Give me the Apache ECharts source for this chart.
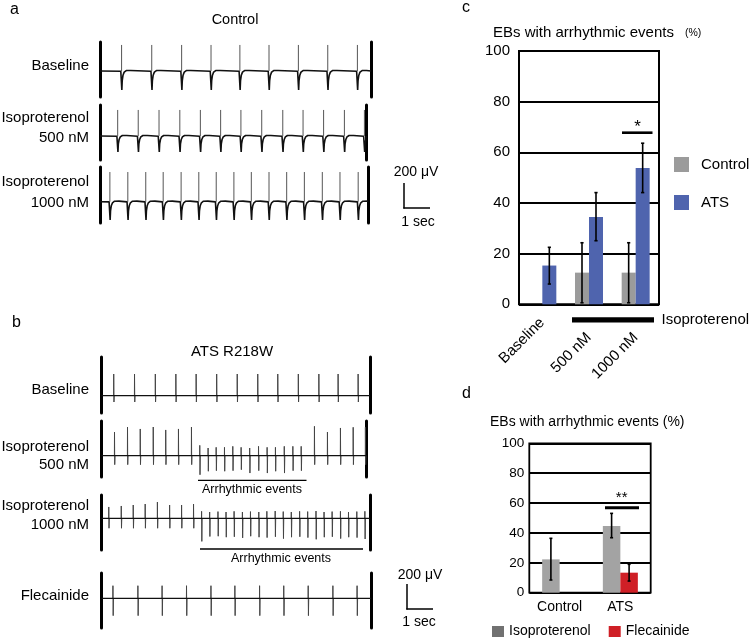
<!DOCTYPE html>
<html><head><meta charset="utf-8">
<script src="https://cdn.jsdelivr.net/npm/echarts@6/dist/echarts.min.js"></script>
<style>html,body{margin:0;padding:0;background:#fff}#c{width:750px;height:638px}</style>
</head><body><div id="c"></div><script>
const FONT = '"Liberation Sans", Arial, Helvetica, sans-serif';

// ---------- Panel a (Control) : spike times (s) and amplitudes (µV) ----------
const aBaselineSpikes = [0.83, 1.99, 3.14, 4.27, 5.38, 6.50, 7.63, 8.76, 9.90];
const a500Spikes = [0.68, 1.47, 2.27, 3.07, 3.86, 4.64, 5.42, 6.22, 7.03, 7.81, 8.60, 9.40, 10.17];
const a1000Spikes = [0.38, 1.07, 1.76, 2.43, 3.12, 3.80, 4.47, 5.15, 5.82, 6.50, 7.18, 7.86, 8.55, 9.23, 9.93];
const aSpikeTop = [186, 186, 212];
const aSpikeBottom = [-136, -114, -131];

// ---------- Panel b (ATS R218W) ----------
const bBaselineSpikes = [0.47, 1.27, 2.07, 2.86, 3.64, 4.43, 5.22, 6.01, 6.78, 7.57, 8.36, 9.10, 9.87];
const bBaselineTops = [155, 155, 155, 155, 155, 155, 155, 155, 155, 155, 155, 155, 155];
const bBaselineBottoms = [-45, -45, -45, -45, -45, -45, -45, -45, -45, -45, -45, -45, -45];

const b500Spikes = [0.50, 1.00, 1.49, 1.99, 2.47, 2.96, 3.46,
  3.78, 4.10, 4.41, 4.73, 5.05, 5.37, 5.70, 6.04, 6.37, 6.69, 7.03, 7.36, 7.68,
  8.19, 8.69, 9.19, 9.68, 10.15];
const b500Tops = [169, 205, 191, 205, 184, 191, 205,
  74, 55, 60, 60, 67, 60, 55, 67, 60, 60, 67, 67, 67,
  210, 169, 198, 203, 203];
const b500Bottoms = [-64, -64, -64, -64, -64, -64, -64,
  -136, -111, -107, -111, -107, -100, -124, -107, -124, -111, -124, -107, -107,
  -64, -64, -64, -64, -64];

const b1000Spikes = [0.28, 0.76, 1.22, 1.68, 2.15, 2.62, 3.08, 3.54,
  3.85, 4.16, 4.48, 4.79, 5.10, 5.42, 5.73, 6.05, 6.36, 6.68, 6.99, 7.30, 7.62, 7.93, 8.25, 8.56, 8.87, 9.19, 9.50, 9.82, 10.13];
const b1000Tops = [81, 88, 95, 102, 116, 95, 95, 102,
  50, 45, 48, 45, 50, 45, 48, 45, 50, 52, 48, 45, 50, 48, 52, 45, 48, 50, 45, 48, 50];
const b1000Bottoms = [-71, -71, -71, -71, -71, -71, -71, -71,
  -165, -130, -128, -135, -132, -140, -128, -135, -138, -132, -145, -135, -132, -138, -150, -135, -132, -145, -135, -138, -148];

const bFlecSpikes = [0.44, 1.40, 2.33, 3.27, 4.21, 5.13, 6.08, 7.01, 7.95, 8.90, 9.83];
const bFlecTops = [90, 90, 90, 90, 90, 90, 90, 90, 90, 90, 90];
const bFlecBottoms = [-124, -124, -124, -124, -124, -124, -124, -124, -124, -124, -124];

// ---------- Panel c ----------
const cCategories = ['Baseline', '500 nM', '1000 nM'];
const cControl = [0, 12.5, 12.5];
const cATS = [15.3, 34.5, 53.8];
const cControlErr = [[1, 0.6, 24.3], [2, 0.6, 24.3]];
const cATSErr = [[0, 8.0, 22.5], [1, 25.1, 44.1], [2, 44.1, 63.6]];

// ---------- Panel d ----------
const dCategories = ['Control', 'ATS'];
const dIso = [22.3, 44.6];
const dFlec = ['-', 13.4];
const dIsoErr = [[0, 8.5, 36.4], [1, 36.8, 53.1]];
const dFlecErr = [[1, 7.8, 19.0]];

// ---------- layout ----------
const PX_PER_SEC = 26, UV_PER_PX = 200 / 28;
const aLayout = [
  {left: 100, right: 371, top: 42, bottom: 97, base: 71},
  {left: 100, right: 366, top: 105, bottom: 160, base: 136},
  {left: 100, right: 368, top: 167, bottom: 223, base: 201.7}
];
const bLayout = [
  {left: 101.5, right: 370, top: 357, bottom: 413, base: 395.7},
  {left: 101.5, right: 366, top: 421, bottom: 477, base: 455.7},
  {left: 101.5, right: 370, top: 495, bottom: 550, base: 518.3},
  {left: 101.5, right: 371, top: 573, bottom: 628, base: 598.3}
];

const grids = [], xAxes = [], yAxes = [], series = [];

function addTraceGrid(lay) {
  const gi = grids.length;
  const w = lay.right - lay.left;
  grids.push({left: lay.left, top: lay.top, width: w, height: lay.bottom - lay.top, outerBoundsMode: 'none', containLabel: false});
  const xMax = w / PX_PER_SEC;
  xAxes.push({type: 'value', gridIndex: gi, min: 0, max: xMax, show: false});
  const yMin = -(lay.bottom - lay.base) * UV_PER_PX, yMax = (lay.base - lay.top) * UV_PER_PX;
  ['left', 'right'].forEach(pos => {
    yAxes.push({type: 'value', gridIndex: gi, position: pos, min: yMin, max: yMax,
      axisLine: {show: true, onZero: false, lineStyle: {color: '#000', width: 3}},
      axisTick: {show: false}, axisLabel: {show: false}, splitLine: {show: false}});
  });
  return {xi: xAxes.length - 1, yi: yAxes.length - 2, xMax: xMax};
}

function pushA(ax, times, top, bottom) {
  const main = [[0, 0]], up = [];
  times.forEach(t => {
    main.push([t - 0.03, -1.5], [t, 0], [t + 0.01, bottom], [t + 0.025, bottom * 0.5],
      [t + 0.055, bottom * 0.22], [t + 0.1, bottom * 0.06], [t + 0.18, 3.5], [t + 0.35, 4]);
    up.push([t, 0], [t, top], [t, '-']);
  });
  const m = main.filter(p => p[0] <= ax.xMax);
  m.push([ax.xMax, 0]);
  series.push({type: 'line', xAxisIndex: ax.xi, yAxisIndex: ax.yi, data: m, symbol: 'none',
    lineStyle: {color: '#111', width: 1.6}, silent: true, animation: false, z: 3});
  series.push({type: 'line', xAxisIndex: ax.xi, yAxisIndex: ax.yi, data: up, symbol: 'none',
    connectNulls: false, lineStyle: {color: '#555', width: 1}, silent: true, animation: false, z: 2});
}

function pushB(ax, times, tops, bottoms) {
  const sp = [];
  times.forEach((t, i) => {
    sp.push([t - 0.004, 0], [t, tops[i]], [t + 0.009, bottoms[i]], [t + 0.02, 0], [t + 0.02, '-']);
  });
  series.push({type: 'line', xAxisIndex: ax.xi, yAxisIndex: ax.yi, data: [[0, 0], [ax.xMax, 0]], symbol: 'none',
    lineStyle: {color: '#111', width: 1.3}, silent: true, animation: false, z: 3});
  series.push({type: 'line', xAxisIndex: ax.xi, yAxisIndex: ax.yi, data: sp, symbol: 'none',
    connectNulls: false, lineStyle: {color: '#444', width: 1}, silent: true, animation: false, z: 2});
}

const aSpikes = [aBaselineSpikes, a500Spikes, a1000Spikes];
aLayout.forEach((lay, i) => pushA(addTraceGrid(lay), aSpikes[i], aSpikeTop[i], aSpikeBottom[i]));
const bSpikes = [[bBaselineSpikes, bBaselineTops, bBaselineBottoms], [b500Spikes, b500Tops, b500Bottoms],
  [b1000Spikes, b1000Tops, b1000Bottoms], [bFlecSpikes, bFlecTops, bFlecBottoms]];
bLayout.forEach((lay, i) => pushB(addTraceGrid(lay), bSpikes[i][0], bSpikes[i][1], bSpikes[i][2]));

// ---------- bar chart c ----------
const gC = grids.length;
grids.push({left: 519, top: 51, width: 140, height: 253.3, show: true, borderColor: '#000', borderWidth: 2,
  outerBoundsMode: 'none', containLabel: false});
const xC = xAxes.length;
xAxes.push({type: 'category', gridIndex: gC, position: 'bottom', data: cCategories, axisLine: {show: false}, axisTick: {show: false},
  axisLabel: {interval: 0, rotate: 45, margin: 16, fontSize: 15, color: '#000', fontFamily: FONT,
    formatter: (v, i) => i === 0 ? v : ''}});
xAxes.push({type: 'category', gridIndex: gC, position: 'bottom', data: cCategories, axisLine: {show: false}, axisTick: {show: false},
  axisLabel: {interval: 0, rotate: 45, margin: 31, fontSize: 15, color: '#000', fontFamily: FONT,
    formatter: (v, i) => i > 0 ? v : ''}});
const yC = yAxes.length;
yAxes.push({type: 'value', gridIndex: gC, min: 0, max: 100, interval: 20, axisLine: {show: false}, axisTick: {show: false},
  axisLabel: {color: '#000', fontSize: 15, margin: 9, fontFamily: FONT},
  splitLine: {lineStyle: {color: '#000', width: 2}}});

function errRender(offsetPx, capHalf) {
  return function (params, api) {
    const cat = api.value(0), lo = api.value(1), hi = api.value(2);
    const pHi = api.coord([cat, hi]), pLo = api.coord([cat, lo]);
    const x = pHi[0] + offsetPx;
    const st = {stroke: '#000', lineWidth: 1.6};
    return {type: 'group', children: [
      {type: 'line', shape: {x1: x, y1: pHi[1], x2: x, y2: pLo[1]}, style: st},
      {type: 'line', shape: {x1: x - capHalf, y1: pHi[1], x2: x + capHalf, y2: pHi[1]}, style: st},
      {type: 'line', shape: {x1: x - capHalf, y1: pLo[1], x2: x + capHalf, y2: pLo[1]}, style: st}
    ]};
  };
}

series.push({type: 'bar', name: 'Control', xAxisIndex: xC, yAxisIndex: yC, data: cControl, barWidth: 14, barGap: '0%',
  itemStyle: {color: '#9b9b9b'}, animation: false, z: 2});
series.push({type: 'bar', name: 'ATS', xAxisIndex: xC, yAxisIndex: yC, data: cATS, barWidth: 14, barGap: '0%',
  itemStyle: {color: '#4f64ae'}, animation: false, z: 2});
series.push({type: 'custom', name: 'errCtrl', xAxisIndex: xC, yAxisIndex: yC, data: cControlErr,
  renderItem: errRender(-7, 1.6), encode: {x: 0, y: [1, 2]}, animation: false, z: 5, silent: true});
series.push({type: 'custom', name: 'errATS', xAxisIndex: xC, yAxisIndex: yC, data: cATSErr,
  renderItem: errRender(7, 1.6), encode: {x: 0, y: [1, 2]}, animation: false, z: 5, silent: true});

// ---------- bar chart d ----------
const gD = grids.length;
grids.push({left: 529.3, top: 443.3, width: 121.4, height: 149.4, show: true, borderColor: '#000', borderWidth: 1.8,
  outerBoundsMode: 'none', containLabel: false});
const xD = xAxes.length;
xAxes.push({type: 'category', gridIndex: gD, position: 'bottom', data: dCategories, axisLine: {show: false}, axisTick: {show: false},
  axisLabel: {interval: 0, margin: 7, fontSize: 14, color: '#000', fontFamily: FONT}});
const yD = yAxes.length;
yAxes.push({type: 'value', gridIndex: gD, min: 0, max: 100, interval: 20, axisLine: {show: false}, axisTick: {show: false},
  axisLabel: {color: '#000', fontSize: 13.5, margin: 5, fontFamily: FONT},
  splitLine: {lineStyle: {color: '#000', width: 1.8}}});
series.push({type: 'bar', name: 'Isoproterenol', xAxisIndex: xD, yAxisIndex: yD, data: dIso, barWidth: 17.5, barGap: '0%',
  itemStyle: {color: '#a3a3a3'}, animation: false, z: 2});
series.push({type: 'bar', name: 'Flecainide', xAxisIndex: xD, yAxisIndex: yD, data: dFlec, barWidth: 17.5, barGap: '0%',
  itemStyle: {color: '#cf1f26'}, animation: false, z: 2});
series.push({type: 'custom', name: 'errIso', xAxisIndex: xD, yAxisIndex: yD, data: dIsoErr,
  renderItem: errRender(-8.75, 1.5), encode: {x: 0, y: [1, 2]}, animation: false, z: 5, silent: true});
series.push({type: 'custom', name: 'errFlec', xAxisIndex: xD, yAxisIndex: yD, data: dFlecErr,
  renderItem: errRender(8.75, 1.5), encode: {x: 0, y: [1, 2]}, animation: false, z: 5, silent: true});

// ---------- annotations ----------
function txt(t, x, y, size, align) {
  return {type: 'text', silent: true, z: 10, style: {text: t, x: x, y: y, fill: '#000',
    font: size + 'px ' + FONT, fontSize: size, fontFamily: FONT,
    align: align || 'left', textAlign: align || 'left', verticalAlign: 'middle', textVerticalAlign: 'middle'}};
}
function ln(x1, y1, x2, y2, w) {
  return {type: 'line', silent: true, z: 10, shape: {x1: x1, y1: y1, x2: x2, y2: y2}, style: {stroke: '#000', lineWidth: w || 1.5}};
}
const G = [
  txt('a', 10, 10, 16), txt('Control', 235, 20, 14.5, 'center'),
  txt('Baseline', 89, 66, 15, 'right'),
  txt('Isoproterenol', 89, 117.5, 15, 'right'), txt('500 nM', 89, 137.5, 15, 'right'),
  txt('Isoproterenol', 89, 182, 15, 'right'), txt('1000 nM', 89, 203, 15, 'right'),
  txt('200 μV', 416, 172, 14, 'center'), ln(404, 183, 404, 208.5), ln(403.3, 208, 430, 208), txt('1 sec', 418, 222, 14, 'center'),

  txt('b', 12, 323, 16), txt('ATS R218W', 232, 352, 15, 'center'),
  txt('Baseline', 89, 390, 15, 'right'),
  txt('Isoproterenol', 89, 446.7, 15, 'right'), txt('500 nM', 89, 464.5, 15, 'right'),
  txt('Isoproterenol', 89, 506, 15, 'right'), txt('1000 nM', 89, 525, 15, 'right'),
  txt('Flecainide', 89, 596, 15, 'right'),
  ln(198, 480.3, 306.5, 480.3, 1.3), txt('Arrhythmic events', 252, 490, 12.5, 'center'),
  ln(200, 549, 363, 549, 1.3), txt('Arrhythmic events', 281, 558.5, 12.5, 'center'),
  txt('200 μV', 420, 575, 14, 'center'), ln(407, 584, 407, 609.5), ln(406.3, 609, 433, 609), txt('1 sec', 419, 622, 14, 'center'),

  txt('c', 462, 8, 16), txt('EBs with arrhythmic events', 493, 33, 15), txt('(%)', 685, 33, 10.5),
  ln(622, 132.7, 652.5, 132.7, 2.6), txt('*', 637.5, 127, 17, 'center'),
  {type: 'rect', silent: true, z: 10, shape: {x: 572, y: 317.3, width: 82, height: 5.3}, style: {fill: '#000'}},
  txt('Isoproterenol', 661.5, 320, 15),

  txt('d', 462, 394, 16), txt('EBs with arrhythmic events (%)', 490, 422, 14),
  ln(605, 507.7, 639, 507.7, 3), txt('**', 621.7, 498, 15, 'center')
];

const chart = echarts.init(document.getElementById('c'), null, {renderer: 'canvas'});
chart.setOption({
  animation: false,
  textStyle: {fontFamily: FONT},
  grid: grids, xAxis: xAxes, yAxis: yAxes, series: series,
  legend: [
    {data: ['Control', 'ATS'], orient: 'vertical', left: 674, top: 157, itemWidth: 15, itemHeight: 15, itemGap: 23,
      padding: 0, icon: 'rect', selectedMode: false,
      textStyle: {fontSize: 15, color: '#000', fontFamily: FONT, padding: [0, 0, 0, 7]}},
    {data: [{name: 'Isoproterenol', itemStyle: {color: '#717171'}}, 'Flecainide'], orient: 'horizontal', left: 492, top: 624.5,
      itemWidth: 12, itemHeight: 11, itemGap: 18, padding: 0, icon: 'rect', selectedMode: false,
      textStyle: {fontSize: 14, color: '#000', fontFamily: FONT}}
  ],
  graphic: {elements: G}
});
</script></body></html>
